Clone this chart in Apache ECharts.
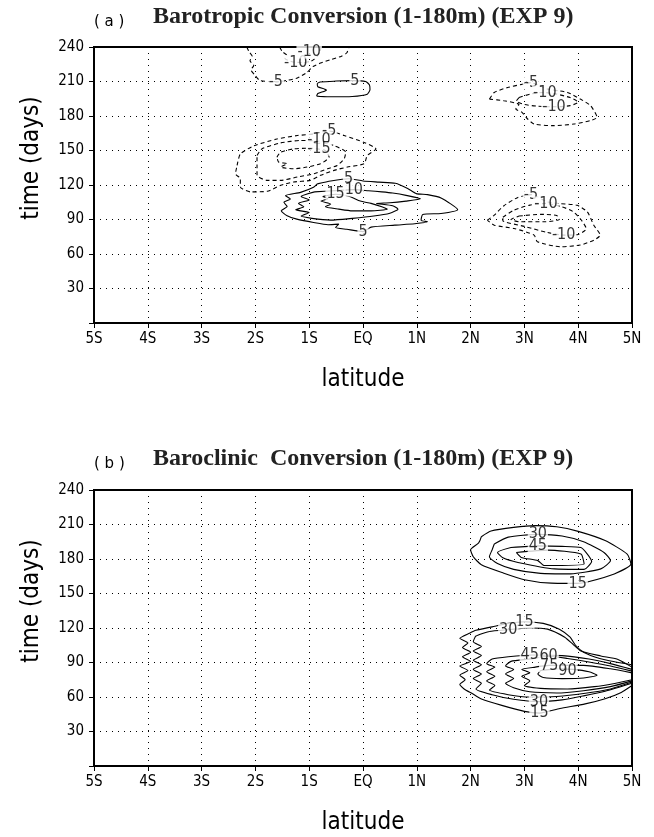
<!DOCTYPE html>
<html>
<head>
<meta charset="utf-8">
<script src="https://cdn.jsdelivr.net/npm/echarts/dist/echarts.min.js"></script>
<style>html,body{margin:0;padding:0;background:#fff}#c{width:654px;height:837px}</style>
</head>
<body>
<div id="c"></div>
<script>
// ---------- tick labels ----------
const latLabels = ['5S','4S','3S','2S','1S','EQ','1N','2N','3N','4N','5N'];
const timeRange = [0, 240];
const timeStep = 30;

// ---------- panel (a): Barotropic conversion contours [lat, day] ----------
const a_neg5_top = [[-2.16,240],[-2.12,236],[-2.06,232],[-2.1,228],[-2.03,224],[-2.08,220],[-2.0,215],[-1.92,211],[-1.75,210],[-1.6,209.7],[-1.41,211],[-1.22,213],[-1.04,218],[-0.93,223],[-0.79,226],[-0.6,229],[-0.4,232],[-0.3,235],[-0.26,240]];
const a_neg10_top = [[-1.55,240],[-1.5,236],[-1.42,233],[-1.45,230],[-1.3,227],[-1.1,226.5],[-0.95,228],[-0.85,232],[-0.8,236],[-0.78,240]];
const a_pos5_top = [[-0.8,209.5],[-0.5,210.5],[-0.2,210.8],[0.05,210],[0.12,207],[0.13,203],[0.08,199],[-0.2,197],[-0.6,196.7],[-0.86,197.5],[-0.84,199.5],[-0.68,202.5],[-0.84,205.5],[-0.85,208],[-0.8,209.5]];
const a_neg5_mid = [[-2.34,137],[-2.28,147],[-2.03,154],[-1.6,160],[-1.22,163],[-0.91,164.4],[-0.63,167],[-0.35,163],[0.02,157],[0.24,151.4],[0.08,145.7],[0.02,138.5],[-0.29,135.6],[-0.54,132.7],[-0.79,128.4],[-0.98,124],[-1.29,122.6],[-1.53,119.7],[-1.78,114.5],[-2.09,114],[-2.28,118.3],[-2.28,125.5],[-2.37,129.8],[-2.34,137]];
const a_neg10_mid = [[-1.97,145.7],[-1.88,151.4],[-1.53,156.6],[-1.16,158.7],[-0.82,158],[-0.54,154.3],[-0.32,148.6],[-0.35,142.8],[-0.48,137],[-0.66,134.1],[-0.91,129.8],[-1.22,126.9],[-1.53,124],[-1.78,124],[-1.97,128.4],[-1.97,137],[-1.97,145.7]];
const a_neg15_mid = [[-1.6,144.2],[-1.53,148.6],[-1.29,151.4],[-1.0,152],[-0.7,150],[-0.63,144.2],[-0.79,138.5],[-1.04,135.6],[-1.29,134.1],[-1.53,135.6],[-1.41,138.5],[-1.57,140],[-1.6,144.2]];
const a_pos5_mid = [[-0.85,121],[-0.6,123.5],[-0.27,125.5],[0.0,123.5],[0.3,122.5],[0.6,121.5],[0.83,117],[0.99,112.5],[1.2,111.6],[1.45,108.7],[1.76,98.5],[1.45,95.2],[1.11,94.3],[1.08,89.4],[1.2,88],[0.96,86.3],[0.59,85.1],[0.15,83.4],[0.0,79.5],[-0.3,81.5],[-0.51,83],[-0.45,86],[-0.65,85.5],[-0.92,87.4],[-1.23,90.3],[-1.41,93.2],[-1.52,97.6],[-1.41,101.4],[-1.47,104.9],[-1.35,107.8],[-1.44,110.7],[-1.16,113.6],[-0.92,118],[-0.85,121]];
const a_pos10_mid = [[-0.9,114],[-0.55,115],[-0.17,116],[0.1,115],[0.35,114],[0.55,113],[0.8,111],[1.07,108],[0.8,106],[0.5,104.5],[0.25,104],[0.55,102],[0.65,99],[0.5,95.5],[0.2,93],[-0.2,91],[-0.6,89.5],[-0.95,91],[-1.15,93],[-1.0,96],[-1.25,98.5],[-1.1,101],[-1.2,104],[-1.0,107],[-1.15,110],[-0.9,114]];
const a_pos15_mid = [[-0.75,110],[-0.51,112],[-0.25,110],[-0.05,106],[0.15,104],[0.35,101],[0.45,99],[0.15,97.5],[-0.2,97.5],[-0.45,99],[-0.7,101],[-0.6,103.5],[-0.78,106],[-0.65,108],[-0.75,110]];
const a_neg5_ur = [[2.35,194.7],[2.44,200.5],[2.69,204.8],[2.95,207.5],[3.12,209],[3.3,206],[3.43,203.4],[3.8,200.5],[4.04,194.7],[4.23,189],[4.35,178.8],[4.23,176],[3.92,173],[3.55,171.6],[3.18,173],[3.06,177.4],[2.96,183],[2.84,186],[2.9,190],[2.62,193.3],[2.35,194.7]];
const a_neg10_ur = [[2.9,196],[3.1,199],[3.35,200.5],[3.6,199],[3.85,196],[4.0,192],[3.85,189],[3.55,188],[3.25,188.5],[3.0,190],[2.85,193],[2.9,196]];
const a_neg5_lr = [[2.31,89.4],[2.44,93.8],[2.62,102],[2.87,109],[3.12,111.6],[3.43,105.3],[3.67,103.8],[3.98,102.4],[4.17,96.6],[4.29,85],[4.41,76.4],[4.29,72],[4.04,67.8],[3.67,66.3],[3.24,70.7],[3.18,76.4],[2.81,82.2],[2.44,85],[2.31,89.4]];
const a_neg10_lr = [[2.6,92],[2.8,98],[3.1,102.5],[3.4,104],[3.7,101],[3.9,97],[4.05,90],[4.15,82],[4.0,77],[3.73,76.4],[3.4,79],[3.0,84],[2.6,89],[2.6,92]];
const a_neg15_lr = [[2.9,93],[3.3,94.5],[3.6,93.5],[3.65,90],[3.4,88],[2.9,88],[2.75,90],[2.9,93]];
const a_labels = [[-1.62,209.8,'-5'],[-1.25,226.5,'-10'],[-1.0,236,'-10'],[-0.15,210.7,'5'],
  [-0.63,167,'-5'],[-0.82,159,'-10'],[-0.82,151.5,'-15'],
  [-0.27,125.5,'5'],[-0.17,116,'10'],[-0.51,112,'15'],[0.0,79.5,'5'],
  [3.12,209,'-5'],[3.38,200.5,'-10'],[3.55,188,'-10'],
  [3.12,111.6,'-5'],[3.4,104,'-10'],[3.73,76.4,'-10']];

// ---------- panel (b): Baroclinic conversion contours [lat, day] ----------
const b_15_up = [[2.2,199.4],[2.38,204.3],[2.8,207.5],[3.2,209],[3.6,208],[4.0,204],[4.5,196],[4.91,184.3],[4.98,175.7],[4.67,167],[4.17,160],[3.99,158.8],[3.5,159],[3.0,162],[2.6,168],[2.2,175],[2.05,182],[2.0,188],[2.15,194],[2.2,199.4]];
const b_30_up = [[2.44,193],[2.7,199],[3.25,201.4],[3.7,200],[4.1,195],[4.48,185.7],[4.6,178.6],[4.42,171.4],[3.86,167.1],[3.3,167.5],[2.8,171],[2.5,176],[2.35,182],[2.4,188],[2.44,193]];
const b_45_up = [[2.75,190],[3.25,191.4],[3.7,191],[4.05,190],[4.17,184.3],[4.25,178],[4.11,171],[3.56,171.4],[2.88,177],[2.6,181],[2.5,185.7],[2.75,190]];
const b_60_up = [[2.85,185.7],[3.43,187.7],[4.05,184.3],[4.11,175.7],[3.37,174.3],[3.25,178.6],[2.94,181.4],[2.85,185.7]];
const b_15_lo = [[5.0,88],[4.7,90.5],[4.4,93.5],[4.1,99],[3.95,105],[3.85,112],[3.65,119],[3.35,124],[3.0,125.5],[2.7,124],[2.4,121],[2.1,118],[1.98,115.5],[1.8,111],[1.95,107],[1.85,103],[2.0,99],[1.85,95],[2.0,91],[1.8,87],[1.95,83],[1.8,79],[1.9,75],[1.8,71],[1.88,67],[2.03,63],[2.19,58.5],[2.58,52.7],[3.0,47.5],[3.28,46],[3.66,50],[4.13,54],[4.5,58.5],[4.8,64],[5.0,70]];
const b_30_lo = [[5.0,86],[4.73,92.9],[4.42,95.7],[4.05,100],[3.9,106],[3.75,112],[3.43,119],[3.1,120],[2.7,118.5],[2.35,117],[2.1,113],[2.05,108],[2.2,104],[2.05,100],[2.2,96],[2.05,92],[2.2,88],[2.05,84],[2.2,80],[2.05,76],[2.2,72],[2.1,67],[2.4,62],[2.8,58],[3.27,56],[3.7,57.5],[4.1,61],[4.5,65],[5.0,72]];
const b_45_lo = [[5.0,84],[4.6,89],[4.2,93],[3.7,96],[3.15,96.5],[2.7,95],[2.4,93],[2.3,89],[2.45,86],[2.3,82],[2.45,78],[2.3,74],[2.45,70],[2.35,66],[2.7,62],[3.1,60],[3.6,60.5],[4.1,63],[4.6,67],[5.0,73]];
const b_60_lo = [[5.0,82.5],[4.6,87],[4.2,90.5],[3.8,93.5],[3.45,95.5],[3.1,93],[2.75,91],[2.65,87],[2.8,84],[2.65,80],[2.8,76],[2.65,72],[2.8,68],[3.1,64.5],[3.6,63.5],[4.1,65.5],[4.6,69],[5.0,74]];
const b_75_lo = [[5.0,81],[4.6,84.5],[4.1,87.5],[3.46,87.5],[3.2,86],[2.95,84],[3.1,81],[2.95,78],[3.1,74],[3.0,70],[3.3,67.5],[3.8,67],[4.3,69],[4.7,72],[5.0,75]];
const b_90_lo = [[3.3,83],[3.6,84.5],[3.9,84],[4.2,82],[4.35,79],[4.1,76.5],[3.7,76],[3.35,77],[3.25,80],[3.3,83]];
const b_labels = [[3.25,201.6,'30'],[3.25,191.4,'45'],[3.99,158.8,'15'],
  [3.0,125.5,'15'],[2.7,118.5,'30'],[3.1,96.5,'45'],[3.45,95.5,'60'],[3.46,87.5,'75'],[3.8,83,'90'],
  [3.27,56,'30'],[3.28,46,'15']];

// ---------- contour sets: which panel, contour value ----------
const contourSets = [
  [0,-5,a_neg5_top],[0,-10,a_neg10_top],[0,5,a_pos5_top],
  [0,-5,a_neg5_mid],[0,-10,a_neg10_mid],[0,-15,a_neg15_mid],
  [0,5,a_pos5_mid],[0,10,a_pos10_mid],[0,15,a_pos15_mid],
  [0,-5,a_neg5_ur],[0,-10,a_neg10_ur],
  [0,-5,a_neg5_lr],[0,-10,a_neg10_lr],[0,-15,a_neg15_lr],
  [1,15,b_15_up],[1,30,b_30_up],[1,45,b_45_up],[1,60,b_60_up],
  [1,15,b_15_lo],[1,30,b_30_lo],[1,45,b_45_lo],[1,60,b_60_lo],[1,75,b_75_lo],[1,90,b_90_lo]
];

const FONT = 'DejaVu Sans Condensed';
const chart = echarts.init(document.getElementById('c'), null, {renderer:'canvas'});

const grids = [
  {left:94, top:47, width:538, height:276},
  {left:94, top:490, width:538, height:276}
];

function mkX(i){
  return {type:'value', gridIndex:i, min:-5, max:5, interval:1,
    name:'latitude', nameLocation:'middle', nameGap:45,
    nameTextStyle:{fontFamily:FONT, fontSize:24, color:'#000'},
    axisLine:{show:true, onZero:false, lineStyle:{color:'#000', width:2}},
    axisTick:{show:true, inside:false, length:5, lineStyle:{color:'#000', width:1}},
    axisLabel:{color:'#000', fontFamily:FONT, fontSize:15, margin:9,
      formatter:v=>latLabels[Math.round(v+5)]},
    splitLine:{show:true, lineStyle:{color:'#000', width:1, type:[1,5]}}
  };
}
function mkY(i){
  return {type:'value', gridIndex:i, min:timeRange[0], max:timeRange[1], interval:timeStep,
    axisLine:{show:true, onZero:false, lineStyle:{color:'#000', width:2}},
    axisTick:{show:true, inside:false, length:5, lineStyle:{color:'#000', width:1}},
    axisLabel:{color:'#000', fontFamily:FONT, fontSize:15, margin:10,
      formatter:v=>(v===0?'':String(v))},
    splitLine:{show:true, lineStyle:{color:'#000', width:1, type:[1,5]}}
  };
}

const series = contourSets.map(([p,v,d]) => ({
  type:'line', xAxisIndex:p, yAxisIndex:p, data:d,
  showSymbol:false, symbol:'none', smooth:0.2, silent:true, animation:false, z:2,
  lineStyle:{color:'#000', width:1.1, type: v<0 ? [4,3] : 'solid'}
}));
[a_labels, b_labels].forEach((labs,p) => {
  series.push({
    type:'scatter', xAxisIndex:p, yAxisIndex:p, silent:true, animation:false, z:5,
    symbolSize:2, itemStyle:{color:'rgba(255,255,255,0)'},
    data: labs.map(l => ({value:[l[0], l[1]], name:l[2]})),
    label:{show:true, position:'inside', formatter:'{b}', color:'#000',
      fontFamily:FONT, fontSize:16, backgroundColor:'#fff', padding:[0,1], lineHeight:14}
  });
});

const titles = [
  {tag:'( a )', text:'Barotropic Conversion (1-180m) (EXP 9)', y:17, mid:158},
  {tag:'( b )', text:'Baroclinic  Conversion (1-180m) (EXP 9)', y:459, mid:601}
];
const graphic = [];
titles.forEach(t => {
  graphic.push({type:'text', x:94, y:t.y+5, silent:true,
    style:{text:t.tag, font:'15px "DejaVu Sans"', fill:'#000', textVerticalAlign:'middle', verticalAlign:'middle'}});
  graphic.push({type:'text', x:153, y:t.y, silent:true,
    style:{text:t.text, font:'bold 24px "Liberation Serif"', fill:'#222', textVerticalAlign:'middle', verticalAlign:'middle'}});
  graphic.push({type:'text', x:32, y:t.mid, rotation:Math.PI/2, silent:true,
    style:{text:'time (days)', font:'24px "DejaVu Sans Condensed"', fill:'#000',
      textAlign:'center', align:'center', textVerticalAlign:'middle', verticalAlign:'middle'}});
});

chart.setOption({
  animation:false,
  backgroundColor:'#fff',
  grid: grids.map(g => Object.assign({show:true, borderColor:'#000', borderWidth:2, backgroundColor:'transparent', containLabel:false}, g)),
  xAxis:[mkX(0), mkX(1)],
  yAxis:[mkY(0), mkY(1)],
  series: series,
  graphic: graphic
});
</script>
</body>
</html>
